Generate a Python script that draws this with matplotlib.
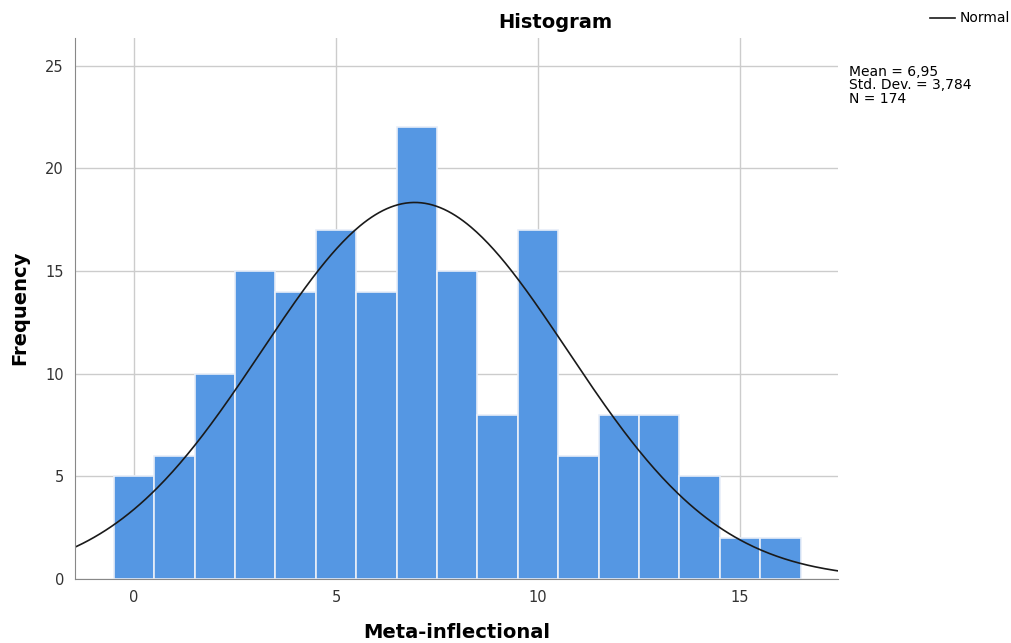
import numpy as np
import matplotlib.pyplot as plt

# histogram counts (bin centers 0..16, width 1)
bin_centers = np.arange(0, 17)
counts = [5, 6, 10, 15, 14, 17, 14, 22, 15, 8, 17, 6, 8, 8, 5, 2, 2]
mean = 6.95
std = 3.784
n = 174

fig = plt.figure(figsize=(10.11, 6.43), dpi=100)
ax = fig.add_axes([0.0742, 0.0995, 0.7548, 0.8415])

ax.set_axisbelow(True)
ax.grid(True, color='#cccccc', linewidth=1)
ax.bar(bin_centers, counts, width=1.0, color='#5597e3', edgecolor='#e8eef8', linewidth=1.2)

xs = np.linspace(-1.46, 17.43, 400)
pdf = n * 1.0 / (std * np.sqrt(2 * np.pi)) * np.exp(-0.5 * ((xs - mean) / std) ** 2)
ax.plot(xs, pdf, color='#1a1a1a', linewidth=1.2)

ax.set_xlim(-1.46, 17.43)
ax.set_ylim(0, 26.36)
ax.set_xticks([0, 5, 10, 15])
ax.set_yticks([0, 5, 10, 15, 20, 25])
ax.tick_params(length=0, labelsize=10.5, colors='#333333', pad=8)
for s in ['top', 'right']:
    ax.spines[s].set_visible(False)
for s in ['left', 'bottom']:
    ax.spines[s].set_color('#888888')

fig.text(555 / 1011, 1 - 22 / 643, 'Histogram', ha='center', va='center', fontsize=14, fontweight='bold')
fig.text(457 / 1011, 1 - 632 / 643, 'Meta-inflectional', ha='center', va='center', fontsize=14, fontweight='bold')
fig.text(20 / 1011, 1 - 308 / 643, 'Frequency', ha='center', va='center', fontsize=14, fontweight='bold', rotation=90)

# legend and stats box
fig.lines.append(plt.Line2D([930 / 1011, 955 / 1011], [1 - 18 / 643, 1 - 18 / 643], color='#1a1a1a',
                            linewidth=1.2, transform=fig.transFigure))
fig.text(960 / 1011, 1 - 18 / 643, 'Normal', ha='left', va='center', fontsize=10)
fig.text(849 / 1011, 1 - 65 / 643, 'Mean = 6,95\nStd. Dev. = 3,784\nN = 174', ha='left', va='top',
         fontsize=10, linespacing=0.95)

fig.savefig('out.png', dpi=100)
